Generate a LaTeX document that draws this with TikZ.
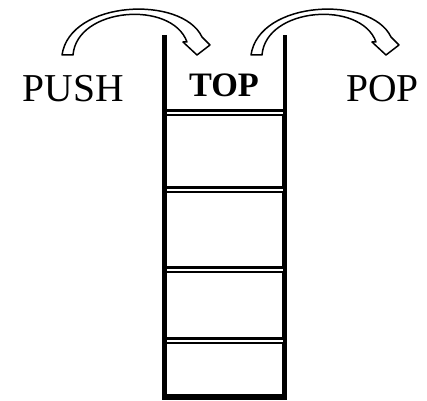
\documentclass[tikz,border=0pt]{standalone}
\usepackage{fontspec}
\setmainfont{Liberation Serif}
\begin{document}
\begin{tikzpicture}[x=0.02cm,y=0.02cm,
    wall/.style={line width=2.3pt,line join=miter},
    divider/.style={line width=1.7pt},
    cellbox/.style={line width=0.6pt},
    hollow/.style={draw,line width=0.85pt,fill=white,line join=round},
    word/.style={inner sep=0pt,font=\fontsize{22.5}{27}\selectfont}]
  \useasboundingbox (0,0) rectangle (427,401);
  % stack cells, each with a heavy rim on top
  \foreach \t/\b in {286/213,209/133,129/61.5,58/6.5}{
    \draw[cellbox] (166,\b) rectangle (283,\t);
    \draw[divider] (164.5,\t+4.5) -- (285,\t+4.5);
  }
  \draw[wall] (164.5,366) -- (164.5,3.5) -- (285,3.5) -- (285,366);
  % bent hollow arrows for push and pop
  \foreach \s in {62,251}{
    \draw[hollow,shift={(\s,346)}] (0,0) .. controls (8,55) and (120,60) .. (140,18)
      -- (148,10) -- (135,0) -- (121,13) -- (125,13)
      .. controls (110,55) and (15,48) .. (11,0) -- cycle;
  }
  \node[word] (push) at (73.5,312.5) {PUSH};
  \node[word] (pop) at (382.5,312.5) {POP};
  \node[word,font=\fontsize{19.5}{24}\selectfont\bfseries] (top) at (224,316) {TOP};
\end{tikzpicture}
\end{document}
